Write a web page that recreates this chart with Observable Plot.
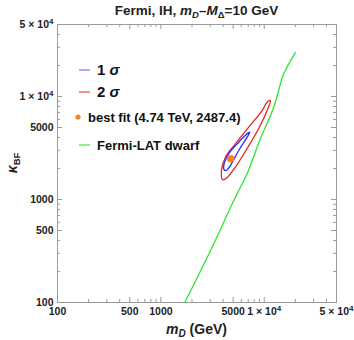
<!DOCTYPE html>
<html><head><meta charset="utf-8">
<script src="https://cdn.jsdelivr.net/npm/d3@7"></script>
<script src="https://cdn.jsdelivr.net/npm/@observablehq/plot@0.6"></script>
<style>body{margin:0;background:#fff;font-family:"Liberation Sans",Arial,sans-serif}</style>
</head><body><div id="chart"></div>
<script>
// Fermi-LAT dwarf limit curve
const fermiMD = [1703, 3133, 5070, 6840, 9040, 12360, 15450, 20030];
const fermiK  = [100, 344, 977, 1788, 3740, 7870, 16600, 26700];
// 2 sigma contour
const sig2MD = [11480, 10660, 8850, 6830, 5260, 4380, 3970, 3855, 4215, 5260, 7080, 9550, 10660];
const sig2K  = [9140, 7310, 4890, 3130, 2060, 1635, 1553, 1913, 2575, 3474, 5035, 7310, 8810];
// 1 sigma contour
const sig1MD = [7240, 6830, 5660, 4710, 4380, 4150, 4060, 4540, 5660, 6830];
const sig1K  = [4500, 4030, 2990, 2138, 1943, 1913, 2138, 2780, 3600, 4345];
// best fit
const bestMD = [4740];
const bestK = [2487.4];
// ticks
const majorTicks = [100, 500, 1000, 5000, 10000, 50000];
const minorTicks = [200, 300, 400, 600, 700, 800, 900, 2000, 3000, 4000, 6000, 7000, 8000, 9000, 20000, 30000, 40000];
const tickLabels = ["100", "500", "1000", "5000", "1 × 10^4", "5 × 10^4"];

const zip = (a, b) => a.map((v, i) => ({x: v, y: b[i]}));
const fermi = zip(fermiMD, fermiK);
const sig2 = zip(sig2MD, sig2K);
const sig1 = zip(sig1MD, sig1K);
const best = zip(bestMD, bestK);
const ticksT = majorTicks.map((v, i) => ({v, label: tickLabels[i]}));

const W = 354, H = 340, mL = 57, mR = 18, mT = 24, mB = 38;
const ph = H - mT - mB;
const pw = W - mL - mR;
const frameC = "#9a9a9a";
const ff = '"Liberation Sans", Arial, sans-serif';

const plot = Plot.plot({
  width: W, height: H,
  marginLeft: mL, marginRight: mR, marginTop: mT, marginBottom: mB,
  style: {fontFamily: ff, fontSize: "10.5px", fontWeight: "bold", color: "#222", background: "#fff"},
  x: {type: "log", domain: [100, 50000], axis: null},
  y: {type: "log", domain: [100, 50000], axis: null},
  marks: [
    Plot.frame({stroke: frameC, strokeWidth: 1}),
    Plot.tickX(majorTicks, {x: d => d, stroke: frameC, insetTop: ph - 5}),
    Plot.tickX(majorTicks, {x: d => d, stroke: frameC, insetBottom: ph - 5}),
    Plot.tickX(minorTicks, {x: d => d, stroke: frameC, insetTop: ph - 3}),
    Plot.tickX(minorTicks, {x: d => d, stroke: frameC, insetBottom: ph - 3}),
    Plot.tickY(majorTicks, {y: d => d, stroke: frameC, insetRight: pw - 5}),
    Plot.tickY(majorTicks, {y: d => d, stroke: frameC, insetLeft: pw - 5}),
    Plot.tickY(minorTicks, {y: d => d, stroke: frameC, insetRight: pw - 3}),
    Plot.tickY(minorTicks, {y: d => d, stroke: frameC, insetLeft: pw - 3}),
    Plot.text(ticksT, {x: "v", text: "label", frameAnchor: "bottom", lineAnchor: "top", dy: 5, fill: "#222"}),
    Plot.text(ticksT, {y: "v", text: "label", frameAnchor: "left", textAnchor: "end", dx: -4, fill: "#222"}),
    Plot.line(fermi, {x: "x", y: "y", stroke: "#2ee62e", strokeWidth: 1.3, curve: "catmull-rom"}),
    Plot.line(sig2, {x: "x", y: "y", stroke: "#e82222", strokeWidth: 1.3, curve: "catmull-rom-closed"}),
    Plot.line(sig1, {x: "x", y: "y", stroke: "#2a2af5", strokeWidth: 1.3, curve: "catmull-rom-closed"}),
    Plot.dot(best, {x: "x", y: "y", r: 3.8, fill: "#f5861f", stroke: "none"})
  ]
});

const svg = d3.select(plot);
// superscripts in tick labels
svg.selectAll("text").each(function() {
  const t = d3.select(this);
  const s = t.text();
  if (s.includes("^")) {
    const [base, exp] = s.split("^");
    t.text(null);
    t.append("tspan").text(base);
    t.append("tspan").attr("dy", "-0.45em").attr("font-size", "8px").text(exp);
  }
});

// title
const title = svg.append("text").attr("x", mL + pw / 2).attr("y", 15)
  .attr("text-anchor", "middle").attr("font-family", ff).attr("font-size", "13.5px").attr("font-weight", "bold").attr("fill", "#222");
title.append("tspan").text("Fermi, IH, ");
title.append("tspan").attr("font-style", "italic").text("m");
title.append("tspan").attr("font-style", "italic").attr("font-size", "9.5px").attr("dy", "3").text("D");
title.append("tspan").attr("dy", "-3").text("–");
title.append("tspan").attr("font-style", "italic").text("M");
title.append("tspan").attr("font-size", "9.5px").attr("dy", "3").text("Δ");
title.append("tspan").attr("dy", "-3").text("=10 GeV");

// x label
const xl = svg.append("text").attr("x", mL + pw / 2).attr("y", 334)
  .attr("text-anchor", "middle").attr("font-family", ff).attr("font-size", "14px").attr("font-weight", "bold").attr("fill", "#222");
xl.append("tspan").attr("font-style", "italic").text("m");
xl.append("tspan").attr("font-style", "italic").attr("font-size", "10px").attr("dy", "3").text("D");
xl.append("tspan").attr("dy", "-3").text(" (GeV)");

// y label
const yl = svg.append("text").attr("transform", `translate(17,${mT + ph / 2}) rotate(-90)`)
  .attr("text-anchor", "middle").attr("font-family", ff).attr("font-size", "14px").attr("font-weight", "bold").attr("fill", "#222");
yl.append("tspan").attr("font-style", "italic").text("κ");
yl.append("tspan").attr("font-size", "9.5px").attr("dy", "3").text("BF");

// legend
const lg = svg.append("g").attr("font-family", ff).attr("font-weight", "bold").attr("fill", "#111").attr("text-anchor", "start");
const items = [
  {y: 70, type: "line", color: "#7a7aff", label: "1 ", sym: "σ", size: 15},
  {y: 92, type: "line", color: "#ff4d4d", label: "2 ", sym: "σ", size: 15},
  {y: 117, type: "dot", color: "#f5861f", label: "best fit (4.74 TeV, 2487.4)", size: 13},
  {y: 145, type: "line", color: "#4ee84e", label: "Fermi-LAT dwarf", size: 13}
];
items.forEach(it => {
  if (it.type === "line") {
    lg.append("line").attr("x1", 79).attr("x2", 90).attr("y1", it.y).attr("y2", it.y).attr("stroke", it.color).attr("stroke-width", 1.3);
  } else {
    lg.append("circle").attr("cx", 78).attr("cy", it.y).attr("r", 2.6).attr("fill", it.color);
  }
  const tx = lg.append("text").attr("x", it.type === "dot" ? 88 : 97).attr("y", it.y).attr("dy", "0.36em").attr("font-size", it.size + "px").attr("text-anchor", "start");
  tx.append("tspan").text(it.label);
  if (it.sym) tx.append("tspan").attr("font-style", "italic").text(it.sym);
});

document.getElementById("chart").appendChild(plot);
</script>
</body></html>
